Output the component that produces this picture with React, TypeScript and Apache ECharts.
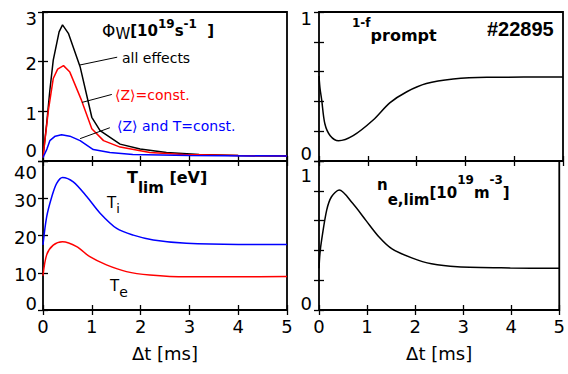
import React, { useEffect, useRef } from "react";
import * as echarts from "echarts";

const SANS = '"DejaVu Sans", sans-serif';
const HELV = '"Liberation Sans", Arial, sans-serif';

// time axis (ms)
const tMin = 0;
const tMax = 5;
const axisTitle = "Δt [ms]";

// Panel: Φ_W [10^19 s^-1]
const allEffectsT = [0, 0.075, 0.14, 0.21, 0.33, 0.4, 0.52, 0.76, 1.0, 1.17, 1.58, 1.99, 2.53, 3.2, 4.0, 5.0];
const allEffectsV = [0.08, 0.75, 1.42, 2.03, 2.6, 2.74, 2.57, 1.9, 0.88, 0.61, 0.34, 0.24, 0.17, 0.13, 0.11, 0.1];
const zConstT = [0, 0.11, 0.21, 0.3, 0.42, 0.55, 0.79, 1.0, 1.24, 1.58, 2.19, 2.88, 4.0, 5.0];
const zConstV = [0.07, 1.02, 1.66, 1.85, 1.92, 1.79, 1.22, 0.65, 0.41, 0.28, 0.17, 0.13, 0.11, 0.1];
const zTConstT = [0, 0.08, 0.14, 0.25, 0.38, 0.55, 0.76, 1.03, 1.37, 1.84, 3.0, 5.0];
const zTConstV = [0.07, 0.24, 0.41, 0.5, 0.53, 0.5, 0.41, 0.23, 0.17, 0.13, 0.11, 0.1];
// leader lines (data coords) for the three labels
const leaderAll = [[0.74, 1.93], [1.52, 2.09]];
const leaderZ = [[0.8, 1.18], [1.41, 1.34]];
const leaderZT = [[0.76, 0.45], [1.37, 0.67]];

// Panel: 1 - f_prompt
const promptT = [0, 0.02, 0.055, 0.12, 0.23, 0.4, 0.7, 1.11, 1.45, 1.8, 2.2, 2.75, 3.44, 4.2, 5.0];
const promptV = [0.57, 0.49, 0.41, 0.25, 0.17, 0.136, 0.17, 0.275, 0.39, 0.465, 0.52, 0.55, 0.562, 0.563, 0.563];

// Panel: T_lim [eV]
const tiT = [0, 0.075, 0.18, 0.28, 0.4, 0.62, 0.9, 1.17, 1.51, 1.85, 2.26, 2.94, 4.0, 5.0];
const tiV = [17.5, 25, 30.4, 34, 35.6, 34.4, 30.4, 26, 21.9, 20.1, 18.8, 17.9, 17.6, 17.6];
const teT = [0, 0.075, 0.21, 0.4, 0.69, 0.96, 1.3, 1.71, 2.19, 2.94, 4.0, 5.0];
const teV = [9.2, 14.8, 17.4, 18.3, 17, 14.3, 12.1, 10.3, 9.4, 8.9, 8.9, 9.0];

// Panel: n_e,lim [10^19 m^-3]
const neT = [0, 0.02, 0.055, 0.16, 0.26, 0.42, 0.7, 0.98, 1.25, 1.52, 1.93, 2.34, 2.88, 3.98, 5.0];
const neV = [0.28, 0.38, 0.47, 0.67, 0.76, 0.805, 0.716, 0.6, 0.49, 0.41, 0.35, 0.31, 0.29, 0.282, 0.28];

// y ranges per panel: [min, max, interval]
const yRanges = [
  [0, 3, 1],
  [0, 1, 0.2],
  [0, 40, 10],
  [0, 1, 0.2],
];

const pairs = (t: number[], v: number[]) => t.map((x, i) => [x, v[i]]);

type Tok = { text: string; fs: number; bold?: boolean; base: number; color?: string; font?: string };

let measureCtx: CanvasRenderingContext2D | null = null;
function measure(text: string, fs: number, bold: boolean, font: string) {
  if (!measureCtx) measureCtx = document.createElement("canvas").getContext("2d");
  if (!measureCtx) return text.length * fs * 0.6;
  measureCtx.font = `${bold ? "bold " : ""}${fs}px ${font}`;
  return measureCtx.measureText(text).width;
}

// sequence of text pieces laid out left to right, each on its own baseline
function segText(x: number, toks: Tok[]) {
  let cx = x;
  const children = toks.map((t) => {
    const font = t.font || SANS;
    const el = {
      type: "text",
      x: cx,
      y: t.base - 0.3465 * t.fs,
      silent: true,
      z: 100,
      style: {
        text: t.text,
        fontSize: t.fs,
        fontWeight: t.bold ? "bold" : "normal",
        fontFamily: font,
        fill: t.color || "#000",
        align: "left",
        verticalAlign: "middle",
      },
    };
    cx += measure(t.text, t.fs, !!t.bold, font);
    return el;
  });
  return { type: "group", children, silent: true };
}

function yLabel(min: number, max: number, showAll: boolean, dHi: number, dLo: number, margin: number) {
  const base = { fontSize: 18, fontFamily: SANS, color: "#000" };
  return {
    show: true,
    margin,
    ...base,
    formatter: (v: number) => {
      const isMax = Math.abs(v - max) < 1e-6;
      const isMin = Math.abs(v - min) < 1e-6;
      if (!showAll && !isMax && !isMin) return "";
      const s = String(Math.round(v * 1000) / 1000);
      return isMax ? `{hi|${s}}` : isMin ? `{lo|${s}}` : `{m|${s}}`;
    },
    rich: {
      hi: { ...base, padding: [2 * dHi, 0, 0, 0] },
      lo: { ...base, padding: [0, 0, 2 * dLo, 0] },
      m: { ...base, padding: [4, 0, 0, 0] },
    },
  };
}

export default function App() {
  const ref = useRef<HTMLDivElement>(null);
  useEffect(() => {
    if (!ref.current) return;
    const chart = echarts.init(ref.current, undefined, { renderer: "svg" });

    const gridPos = [
      { left: 43, top: 12 },
      { left: 319, top: 12 },
      { left: 43, top: 161 },
      { left: 319, top: 161 },
    ];
    const grid = gridPos.map((p) => ({
      ...p,
      width: 244,
      height: 149,
      show: true,
      borderColor: "#000",
      borderWidth: 1.8,
      backgroundColor: "transparent",
    }));

    const tick = { show: true, inside: true, length: 5, lineStyle: { color: "#000", width: 1.3 } };
    const xAxis: any[] = [];
    const yAxis: any[] = [];
    for (let i = 0; i < 4; i++) {
      const bottomRow = i >= 2;
      xAxis.push({
        gridIndex: i,
        type: "value",
        min: tMin,
        max: tMax,
        interval: 1,
        position: "bottom",
        axisLine: { show: false },
        axisTick: tick,
        splitLine: { show: false },
        axisLabel: bottomRow
          ? { show: true, fontSize: 18, fontFamily: SANS, color: "#000", margin: 7 }
          : { show: false },
        name: bottomRow ? axisTitle : "",
        nameLocation: "middle",
        nameGap: 34,
        nameTextStyle: { fontSize: 18, fontFamily: SANS, color: "#000" },
      });
    }
    for (let i = 0; i < 4; i++) {
      xAxis.push({
        gridIndex: i,
        type: "value",
        min: tMin,
        max: tMax,
        interval: 1,
        position: "top",
        axisLine: { show: false },
        axisTick: tick,
        splitLine: { show: false },
        axisLabel: { show: false },
      });
    }
    const labelShift = [
      [6, 11],
      [6, 8],
      [11, 7],
      [14, 7],
    ];
    for (let i = 0; i < 4; i++) {
      const [mn, mx, iv] = yRanges[i];
      const left = i % 2 === 0;
      yAxis.push({
        gridIndex: i,
        type: "value",
        min: mn,
        max: mx,
        interval: iv,
        position: "left",
        axisLine: { show: false },
        axisTick: tick,
        splitLine: { show: false },
        axisLabel: yLabel(mn, mx, left, labelShift[i][0], labelShift[i][1], left ? 6 : 7),
      });
    }
    for (let i = 0; i < 4; i++) {
      const [mn, mx, iv] = yRanges[i];
      yAxis.push({
        gridIndex: i,
        type: "value",
        min: mn,
        max: mx,
        interval: iv,
        position: "right",
        axisLine: { show: false },
        axisTick: tick,
        splitLine: { show: false },
        axisLabel: { show: false },
      });
    }

    const line = (data: number[][], color: string, gi: number, smooth: number | boolean, extra: any = {}) => ({
      type: "line",
      xAxisIndex: gi,
      yAxisIndex: gi,
      data,
      showSymbol: false,
      smooth,
      lineStyle: { color, width: 1.5 },
      itemStyle: { color },
      silent: true,
      ...extra,
    });

    const leaderLines = {
      silent: true,
      symbol: ["none", "none"],
      label: { show: false },
      lineStyle: { color: "#000", width: 1, type: "solid" },
      emphasis: { disabled: true },
      data: [leaderAll, leaderZ, leaderZT].map(([a, b]) => [{ coord: a }, { coord: b }]),
    };

    const series = [
      line(pairs(allEffectsT, allEffectsV), "#000", 0, false, { markLine: leaderLines }),
      line(pairs(zConstT, zConstV), "#ff0000", 0, false),
      line(pairs(zTConstT, zTConstV), "#0000ff", 0, false),
      line(pairs(promptT, promptV), "#000", 1, 0.3),
      line(pairs(tiT, tiV), "#0000ff", 2, 0.3),
      line(pairs(teT, teV), "#ff0000", 2, 0.3),
      line(pairs(neT, neV), "#000", 3, 0.3),
    ];

    const graphic = [
      segText(102, [
        { text: "Φ", fs: 17, base: 36.5 },
        { text: "W", fs: 15, base: 39 },
        { text: "[10", fs: 15, bold: true, base: 36 },
        { text: "19", fs: 12, bold: true, base: 28.5 },
        { text: "s", fs: 15, bold: true, base: 36 },
        { text: "-1", fs: 12, bold: true, base: 28.5 },
        { text: "  ]", fs: 15, bold: true, base: 36 },
      ]),
      segText(122, [{ text: "all effects", fs: 14, base: 63 }]),
      segText(115, [{ text: "⟨Z⟩=const.", fs: 14, base: 100, color: "#ff0000" }]),
      segText(117, [{ text: "⟨Z⟩ and T=const.", fs: 14, base: 131, color: "#0000ff" }]),
      segText(352, [
        { text: "1-f", fs: 12, bold: true, base: 27.3 },
        { text: "prompt", fs: 16, bold: true, base: 40.7 },
      ]),
      segText(487, [{ text: "#22895", fs: 20, bold: true, base: 35.7, font: HELV }]),
      segText(127, [
        { text: "T", fs: 16, bold: true, base: 183.3 },
        { text: "lim", fs: 15, bold: true, base: 193.5 },
        { text: " [eV]", fs: 16, bold: true, base: 183.3 },
      ]),
      segText(107, [
        { text: "T", fs: 15, base: 208 },
        { text: "i", fs: 13, base: 213.5 },
      ]),
      segText(110, [
        { text: "T", fs: 15, base: 291.5 },
        { text: "e", fs: 14, base: 297 },
      ]),
      segText(377, [
        { text: "n", fs: 15, bold: true, base: 190 },
        { text: "e,lim", fs: 15, bold: true, base: 205 },
        { text: "[10", fs: 15, bold: true, base: 198 },
        { text: "19", fs: 12, bold: true, base: 184 },
        { text: "m", fs: 15, bold: true, base: 198 },
        { text: "-3", fs: 12, bold: true, base: 184 },
        { text: "]", fs: 15, bold: true, base: 198 },
      ]),
    ];

    chart.setOption({
      animation: false,
      backgroundColor: "#fff",
      grid,
      xAxis,
      yAxis,
      series,
      graphic,
    });
    return () => chart.dispose();
  }, []);
  return (
    <div
      ref={ref}
      style={{ position: "fixed", left: 0, top: 0, width: 568, height: 374, background: "#fff" }}
    />
  );
}
